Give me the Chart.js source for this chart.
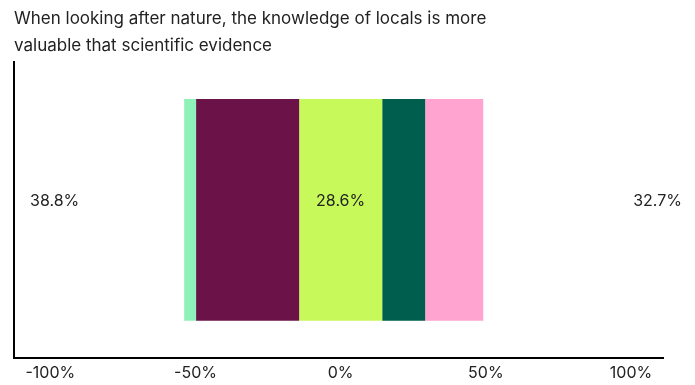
<!DOCTYPE html>
<html>
<head>
<meta charset="utf-8">
<script src="https://cdn.jsdelivr.net/npm/chart.js@4"></script>
<style>
  html, body { margin: 0; padding: 0; background: #fff; }
  #wrap { width: 695px; height: 385px; }
</style>
</head>
<body>
<div id="wrap"><canvas id="chart"></canvas></div>
<script>
"use strict";

// Response shares, left to right
const responses = ["Strongly disagree", "Disagree", "Neither", "Agree", "Strongly agree"];
const shares = [4.1, 35.5, 28.6, 14.8, 20.0];
const colors = ["#8ef2b8", "#6b1249", "#c8f95a", "#005e4f", "#ffa3d1"];

// Summary figures: disagree total, neutral, agree total
const summaryLabels = ["38.8%", "28.6%", "32.7%"];
const tickValues = [-100, -50, 0, 50, 100];

const titleLines = [
  "When looking after nature, the knowledge of locals is more",
  "valuable that scientific evidence"
];

// Centre the neutral block on zero and lay the rest out around it
const start0 = -(shares[0] + shares[1] + shares[2] / 2);
const datasets = [];
let cursor = start0;
shares.forEach((v, i) => {
  datasets.push({
    label: responses[i],
    data: [[cursor, cursor + v]],
    backgroundColor: colors[i],
    borderWidth: 0,
    borderSkipped: false,
    grouped: false,
    barPercentage: 0.75,
    categoryPercentage: 1,
  });
  cursor += v;
});

const textFont = "Inter, 'Noto Sans', sans-serif";

// Draws the three summary numbers across the bar, a little above its middle
const summaryPlugin = {
  id: "summary",
  afterDatasetsDraw(chart) {
    const { ctx, chartArea, scales } = chart;
    const y = scales.y.getPixelForValue(0) - 9;
    ctx.save();
    ctx.font = "16px " + textFont;
    ctx.fillStyle = "#222";
    ctx.textBaseline = "middle";
    ctx.textAlign = "left";
    ctx.fillText(summaryLabels[0], chartArea.left + 16, y);
    ctx.textAlign = "center";
    ctx.fillText(summaryLabels[1], scales.x.getPixelForValue(0), y);
    ctx.textAlign = "right";
    ctx.fillText(summaryLabels[2], chartArea.right + 19, y);
    ctx.restore();
  }
};

new Chart(document.getElementById("chart"), {
  type: "bar",
  data: { labels: [""], datasets },
  plugins: [summaryPlugin],
  options: {
    indexAxis: "y",
    responsive: true,
    maintainAspectRatio: false,
    animation: false,
    layout: { padding: { left: 14, right: 32, top: 0, bottom: -4 } },
    plugins: {
      legend: { display: false },
      tooltip: { enabled: false },
      title: {
        display: true,
        text: titleLines,
        align: "start",
        color: "#222",
        font: { family: textFont, size: 17, weight: "normal", lineHeight: 1.59 },
        padding: { top: 5, bottom: 3 },
      },
    },
    scales: {
      x: {
        min: -112.5,
        max: 111,
        afterBuildTicks: (axis) => { axis.ticks = tickValues.map(v => ({ value: v })); },
        grid: { display: false, drawTicks: false },
        border: { color: "#000", width: 2 },
        ticks: {
          color: "#222",
          padding: 6,
          font: { family: textFont, size: 16 },
          callback: (v) => v + "%",
          maxRotation: 0,
        },
      },
      y: {
        grid: { display: false, drawTicks: false },
        border: { color: "#000", width: 2 },
        ticks: { display: false },
      },
    },
  },
});
</script>
</body>
</html>
